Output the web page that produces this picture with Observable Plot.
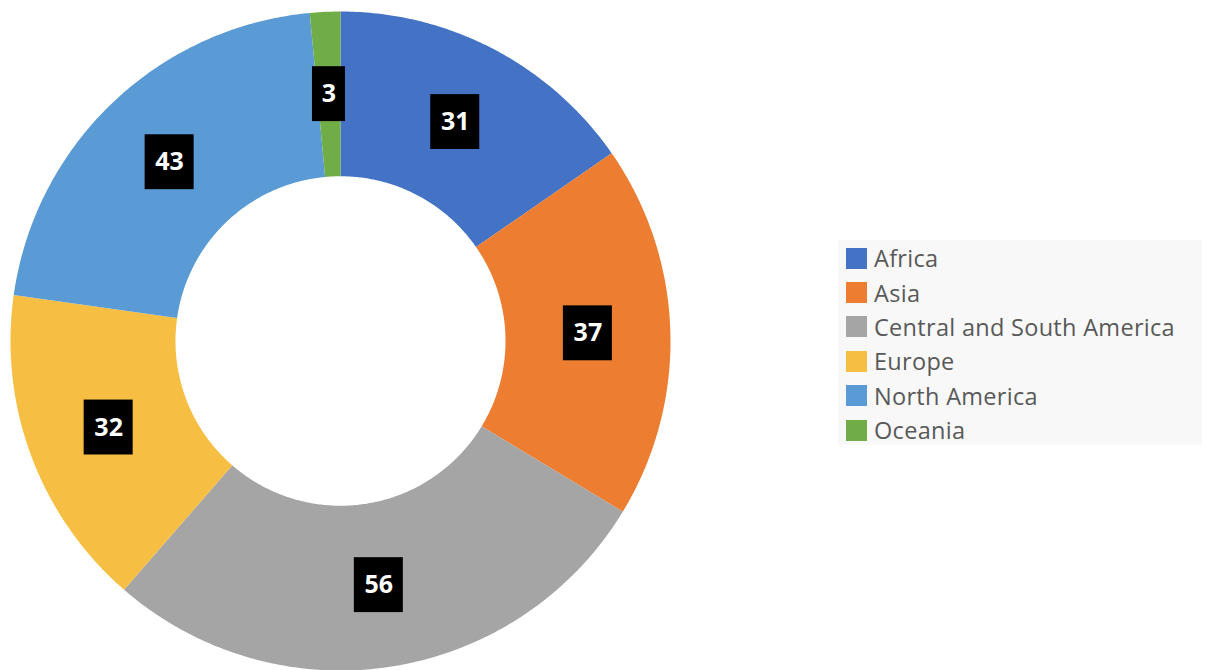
<!DOCTYPE html>
<html>
<head>
<meta charset="utf-8">
<script src="https://cdn.jsdelivr.net/npm/d3@7"></script>
<script src="https://cdn.jsdelivr.net/npm/@observablehq/plot@0.6"></script>
<style>
  html, body { margin: 0; padding: 0; background: #fff; }
  #wrap { position: relative; width: 1207px; height: 670px; overflow: hidden; }
  #chart { position: absolute; left: 0; top: 0; }
  #legend { position: absolute; left: 838px; top: 240px; width: 364px; height: 205px;
            background: #f8f8f8; box-sizing: border-box; padding: 1px 0 0 8px;
            font-family: "Open Sans", sans-serif; font-size: 23.5px; letter-spacing: 0.3px; color: #595959; }
  .item { display: flex; align-items: center; height: 34.4px; }
  .sw { width: 21px; height: 21px; margin-right: 7px; flex: none; }
</style>
</head>
<body>
<div id="wrap"><div id="chart"></div><div id="legend"></div></div>
<script>
const regions = ["Africa", "Asia", "Central and South America", "Europe", "North America", "Oceania"];
const counts = [31, 37, 56, 32, 43, 3];
const colors = ["#4472C4", "#ED7D31", "#A5A5A5", "#F6BF44", "#5B9BD5", "#70AD47"];

const outerR = 1, innerR = 0.5, labelR = 0.75;
const pie = d3.pie().sort(null).value(d => d.count);
const arcs = pie(regions.map((name, i) => ({name, count: counts[i]})));

// Ring sector outlines in data units (angle 0 = 12 o'clock, clockwise)
const pts = [];
for (const a of arcs) {
  const n = Math.max(4, Math.ceil((a.endAngle - a.startAngle) / 0.01));
  for (let k = 0; k <= n; k++) {
    const t = a.startAngle + (a.endAngle - a.startAngle) * k / n;
    pts.push({name: a.data.name, x: outerR * Math.sin(t), y: outerR * Math.cos(t)});
  }
  for (let k = n; k >= 0; k--) {
    const t = a.startAngle + (a.endAngle - a.startAngle) * k / n;
    pts.push({name: a.data.name, x: innerR * Math.sin(t), y: innerR * Math.cos(t)});
  }
}

const W = 680, H = 670, mL = 10, mR = 10, mT = 11, mB = 0;
const unitPx = (W - mL - mR) / 2; // pixels per data unit
const labels = arcs.map(a => {
  const m = (a.startAngle + a.endAngle) / 2;
  const txt = String(a.data.count);
  const hw = (txt.length === 1 ? 16.5 : 24.5) / unitPx;
  const hh = 27.5 / unitPx;
  const cx = labelR * Math.sin(m), cy = labelR * Math.cos(m);
  return {txt, cx, cy, x1: cx - hw, x2: cx + hw, y1: cy - hh, y2: cy + hh};
});

const chart = Plot.plot({
  width: W, height: H,
  marginLeft: mL, marginRight: mR, marginTop: mT, marginBottom: mB,
  x: {domain: [-1, 1], axis: null},
  y: {domain: [-1, 1], axis: null},
  color: {domain: regions, range: colors},
  marks: [
    Plot.line(pts, {x: "x", y: "y", z: "name", fill: "name", stroke: "none", curve: "linear-closed"}),
    Plot.rect(labels, {x1: "x1", x2: "x2", y1: "y1", y2: "y2", fill: "black"}),
    Plot.text(labels, {x: "cx", y: "cy", text: "txt", fill: "white", fontSize: 25, fontWeight: "bold",
                       fontFamily: "Open Sans, sans-serif"})
  ]
});
document.getElementById("chart").appendChild(chart);

const legend = document.getElementById("legend");
regions.forEach((r, i) => {
  const it = document.createElement("div");
  it.className = "item";
  const sw = document.createElement("div");
  sw.className = "sw";
  sw.style.background = colors[i];
  const lb = document.createElement("span");
  lb.textContent = r;
  it.appendChild(sw); it.appendChild(lb);
  legend.appendChild(it);
});
</script>
</body>
</html>
